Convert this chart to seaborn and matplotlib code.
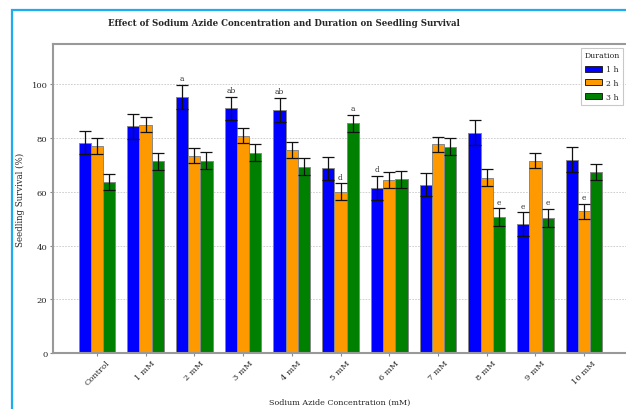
import matplotlib
matplotlib.use("Agg")
import matplotlib.pyplot as plt
import seaborn as sns
import pandas as pd
from matplotlib.patches import Rectangle

# Treatment levels and exposure durations
concentrations = ["Control", "1 mM", "2 mM", "3 mM", "4 mM", "5 mM",
                  "6 mM", "7 mM", "8 mM", "9 mM", "10 mM"]
durations = ["1 h", "2 h", "3 h"]

# Mean seedling survival (%) per duration
survival_1h = [78.3, 84.4, 95.4, 91.0, 90.4, 68.8, 61.5, 62.7, 82.0, 48.0, 71.9]
survival_2h = [77.0, 84.9, 73.5, 80.9, 75.7, 60.0, 64.3, 77.7, 65.2, 71.6, 52.7]
survival_3h = [63.7, 71.3, 71.6, 74.6, 69.4, 85.5, 64.6, 76.8, 50.6, 50.3, 67.4]

# Standard deviations
sd_1h = [4.3, 4.6, 4.5, 4.4, 4.5, 4.3, 4.5, 4.3, 4.6, 4.4, 4.6]
sd_2h = [3.0, 2.8, 2.8, 2.9, 3.0, 3.1, 3.0, 2.8, 3.1, 2.9, 2.9]
sd_3h = [3.1, 3.3, 3.2, 3.1, 3.2, 3.2, 3.1, 3.2, 3.2, 3.3, 3.1]

# Significance letters
letters_1h = ["", "", "a", "ab", "ab", "", "d", "", "", "e", ""]
letters_2h = ["", "", "", "", "", "d", "", "", "", "", "e"]
letters_3h = ["", "", "", "", "", "a", "", "", "e", "e", ""]

colors = ["#0000FF", "#FF9900", "#008000"]

means = [survival_1h, survival_2h, survival_3h]
sds = [sd_1h, sd_2h, sd_3h]
letters = [letters_1h, letters_2h, letters_3h]

df = pd.DataFrame({
    "Concentration": concentrations * 3,
    "Duration": [d for d in durations for _ in concentrations],
    "Survival": survival_1h + survival_2h + survival_3h,
})

sns.set_style("white")
plt.rcParams["font.family"] = ["DejaVu Serif"]

W, H = 626, 410
fig = plt.figure(figsize=(W / 100, H / 100), dpi=100)

# outer frame
fig.patches.append(Rectangle((12 / W, -0.2), 1.5, 1.2 - 11 / H,
                             transform=fig.transFigure, fill=False,
                             edgecolor="#1CADF0", linewidth=1.6))

ax = fig.add_axes([53 / W, (H - 354) / H, (628 - 53) / W, (354 - 45) / H])
ax.set_axisbelow(True)
ax.yaxis.grid(True, linestyle=(0, (2, 1.5)), color="#C8C8C8", linewidth=0.6)

sns.barplot(data=df, x="Concentration", y="Survival", hue="Duration",
            order=concentrations, hue_order=durations, palette=colors,
            saturation=1, width=0.75, gap=0, errorbar=None,
            edgecolor="#888888", linewidth=0.7, ax=ax)

for cont, m, s, lab in zip(ax.containers, means, sds, letters):
    xs = [p.get_x() + p.get_width() / 2 for p in cont]
    ax.errorbar(xs, m, yerr=s, fmt="none", ecolor="#111111",
                elinewidth=0.9, capsize=4, capthick=0.9, zorder=4)
    for x, mv, sv, t in zip(xs, m, s, lab):
        if t:
            ax.text(x, mv + sv + 1.0, t, ha="center", va="bottom",
                    fontsize=5.4, color="#333333")

ax.set_ylim(0, 115)
ax.set_xlim(-0.9, 10.9)
ax.set_yticks([0, 20, 40, 60, 80, 100])

for side in ["left", "bottom", "top", "right"]:
    ax.spines[side].set_color("#999999")
    ax.spines[side].set_linewidth(1.5)

ax.tick_params(axis="both", which="major", labelsize=6, length=2.5,
               width=0.8, color="#888888", direction="out",
               bottom=True, left=True, pad=1.5)
plt.setp(ax.get_xticklabels(), rotation=45, ha="center")

ax.set_xlabel("Sodium Azide Concentration (mM)", fontsize=5.8)
ax.set_ylabel("Seedling Survival (%)", fontsize=6.2)
ax.xaxis.set_label_coords((340 - 53) / (628 - 53), (354 - 399) / (354 - 45))
ax.yaxis.set_label_coords((25 - 53) / (628 - 53), 0.5)

leg = ax.legend(title="Duration", loc="upper right", fontsize=5.6,
                title_fontsize=5.6, frameon=True, fancybox=False,
                edgecolor="#BBBBBB", borderaxespad=0.0, handlelength=2.2,
                handleheight=0.8, labelspacing=0.75, borderpad=0.45,
                handletextpad=0.6,
                bbox_to_anchor=((623 - 53) / (628 - 53), 1 - 4 / (354 - 45)))
leg.get_frame().set_linewidth(0.8)
for h in leg.legend_handles:
    h.set_edgecolor("#222222")

fig.text(284 / W, 1 - 24 / H,
         "Effect of Sodium Azide Concentration and Duration on Seedling Survival",
         ha="center", va="center", fontsize=6.2, fontweight="bold")

fig.savefig("out.png", dpi=100)
